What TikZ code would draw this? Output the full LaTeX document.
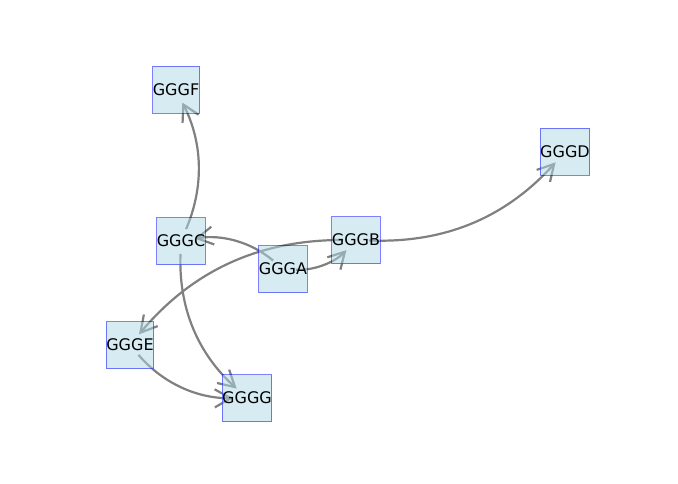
\documentclass[tikz,border=0pt]{standalone}
\usepackage{fontspec}
\setmainfont{DejaVu Sans}
\usetikzlibrary{arrows.meta}
\pgfdeclarelayer{edges}
\pgfsetlayers{edges,main}
\definecolor{nodefill}{RGB}{173,216,230}
\definecolor{edgegray}{RGB}{128,128,128}
\begin{document}
\begin{tikzpicture}[x=1pt,y=1pt,
  gnode/.style={draw=blue, draw opacity=0.5, fill=nodefill, fill opacity=0.5,
    text opacity=1, line width=1pt, minimum width=47pt, minimum height=47pt,
    inner sep=0pt, font=\fontsize{16}{18}\selectfont},
  link/.style={draw=edgegray, line width=2.2pt,
    -{Straight Barb[length=16pt,width=18pt,line width=2.2pt]},
    shorten <=13pt, shorten >=14pt, bend right=25}]
  \useasboundingbox (0,0) rectangle (678,483);

  % nodes (pixel-style positions, y measured from the bottom)
  \node[gnode] (F) at (176,393) {GGGF};
  \node[gnode] (D) at (565,331) {GGGD};
  \node[gnode] (C) at (181,242) {GGGC};
  \node[gnode] (B) at (356,243) {GGGB};
  \node[gnode] (A) at (283,214) {GGGA};
  \node[gnode] (E) at (130,138) {GGGE};
  \node[gnode] (G) at (247,85)  {GGGG};

  % directed edges, drawn beneath the translucent boxes
  \begin{pgfonlayer}{edges}
    \draw[link] (A.center) to (B.center);
    \draw[link] (A.center) to (C.center);
    \draw[link] (B.center) to (D.center);
    \draw[link] (B.center) to (E.center);
    \draw[link] (C.center) to (F.center);
    \draw[link] (C.center) to (G.center);
    \draw[link] (E.center) to (G.center);
  \end{pgfonlayer}
\end{tikzpicture}
\end{document}
